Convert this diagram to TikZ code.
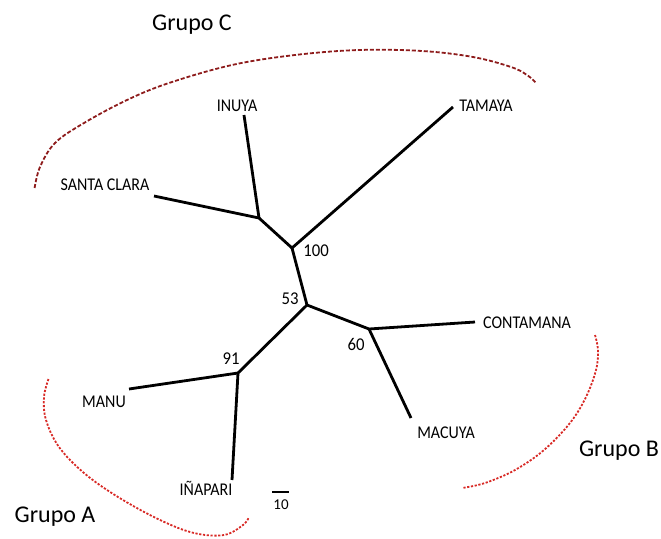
\documentclass[tikz,border=0pt]{standalone}
\usepackage{fontspec}
\setmainfont{Carlito}
\definecolor{darkred}{HTML}{8E1C1C}
\definecolor{brightred}{HTML}{D82A26}
\begin{document}
\begin{tikzpicture}[x=1pt,y=-1pt,
  branch/.style={line width=2.8pt},
  leaflabel/.style={font=\fontsize{16}{16}\selectfont,inner sep=0pt,yscale=1.12},
  support/.style={font=\fontsize{18}{18}\selectfont,inner sep=0pt,xscale=0.93},
  grouplabel/.style={font=\fontsize{24}{24}\selectfont,inner sep=0pt},
  arcC/.style={darkred,line width=1.8pt,dash pattern=on 4pt off 2pt},
  arcAB/.style={brightred,line width=1.8pt,dash pattern=on 2.2pt off 1.6pt}]
\useasboundingbox (0,0) rectangle (661,538);
% internal nodes
\coordinate (n100) at (292,248);
\coordinate (jsc) at (259,218);
\coordinate (n53) at (307,305);
\coordinate (n60) at (369,329);
\coordinate (n91) at (238,373);
% leaf ends
\coordinate (lTam) at (453,107);
\coordinate (lInu) at (244,115);
\coordinate (lSC) at (154,196);
\coordinate (lCon) at (475,322);
\coordinate (lMac) at (411,418);
\coordinate (lMan) at (129,389);
\coordinate (lIna) at (232,480);
% branches
\draw[branch] (n100) -- (lTam);
\draw[branch] (n100) -- (jsc);
\draw[branch] (jsc) -- (lSC);
\draw[branch] (jsc) -- (lInu);
\draw[branch] (n100) -- (n53);
\draw[branch] (n53) -- (n60);
\draw[branch] (n60) -- (lCon);
\draw[branch] (n60) -- (lMac);
\draw[branch] (n53) -- (n91);
\draw[branch] (n91) -- (lMan);
\draw[branch] (n91) -- (lIna);
% leaf labels
\node[leaflabel] (tTam) at (486,106) {TAMAYA};
\node[leaflabel] (tInu) at (237,106) {INUYA};
\node[leaflabel] (tSC) at (105,185) {SANTA CLARA};
\node[leaflabel] (tCon) at (527,323) {CONTAMANA};
\node[leaflabel] (tMac) at (446,433) {MACUYA};
\node[leaflabel] (tMan) at (104,402) {MANU};
\node[leaflabel] (tIna) at (206,488) {IÑAPARI};
% support values
\node[support] (s100) at (316,251) {100};
\node[support] (s53) at (290,299) {53};
\node[support] (s60) at (356,344) {60};
\node[support] (s91) at (231,359) {91};
% scale bar
\coordinate (sb1) at (272,492);
\coordinate (sb2) at (289,492);
\draw[line width=2.4pt] (sb1) -- (sb2);
\node[font=\fontsize{15}{15}\selectfont,inner sep=0pt] (sbl) at (281,505) {10};
% group labels
\node[grouplabel] (gC) at (192,25) {Grupo C};
\node[grouplabel] (gB) at (619,451) {Grupo B};
\node[grouplabel] (gA) at (55,517) {Grupo A};
% group arcs
\draw[arcC] plot[smooth,tension=0.6] coordinates {(34.6,188) (40,167) (55,143) (84,123) (127,100) (169,83) (232,65) (295,55) (359,50) (422,51) (473,57) (511,67) (527,75) (536,83)};
\draw[arcAB] plot[smooth,tension=0.6] coordinates {(48.5,379) (44,397) (46,420) (59,447) (84,473) (118,497) (160,520) (194,533) (224,535) (243,525) (249,517)};
\draw[arcAB] plot[smooth,tension=0.6] coordinates {(595,335) (598,350) (596,370) (586,397) (570,423) (544,450) (515,470) (485,483) (462,488)};
\end{tikzpicture}
\end{document}
